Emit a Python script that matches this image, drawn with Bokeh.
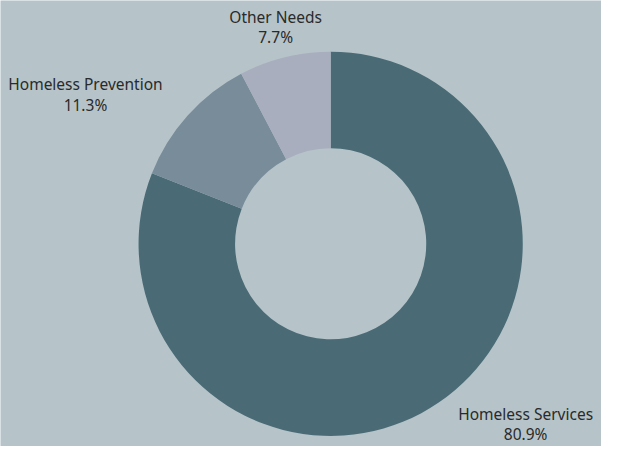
import numpy as np
from bokeh.plotting import figure
from bokeh.models import Range1d, ColumnDataSource
from bokeh.core.properties import value
from bokeh.embed import file_html
from bokeh.resources import INLINE

categories = ["Homeless Services", "Homeless Prevention", "Other Needs"]
shares = [80.9, 11.3, 7.7]
colors = ["#4a6b75", "#788c9a", "#a8aebe"]
pct_labels = ["80.9%", "11.3%", "7.7%"]

BG = "#b6c4c9"
W, H = 601, 446
k = H / 462.0
p = figure(width=W, height=H, output_backend="svg", toolbar_location=None,
           x_range=Range1d(0, W / k), y_range=Range1d(0, 462),
           min_border=0, background_fill_color=BG, border_fill_color=BG)
p.axis.visible = False
p.grid.visible = False
p.outline_line_color = None

cx, cy = 342, 210
frac = np.array(shares) / np.sum(shares)
cum = np.concatenate([[0], np.cumsum(frac)])
start = np.pi / 2 - 2 * np.pi * cum[:-1]
end = np.pi / 2 - 2 * np.pi * cum[1:]
src = ColumnDataSource(dict(start=start, end=end, color=colors))
p.annular_wedge(x=cx, y=cy, inner_radius=99, outer_radius=199,
                start_angle="start", end_angle="end", direction="clock",
                fill_color="color", line_color=None, source=src)

label_pos = [(544, 462 - 428), (88, 462 - 87), (285, 462 - 17)]
for (lx, ly), name, pct in zip(label_pos, categories, pct_labels):
    p.text(x=[lx, lx], y=[ly, ly - 21], text=[name, pct],
           text_align="center", text_baseline="middle",
           text_font=value("Noto Sans"), text_font_size="15.5px",
           text_color="#2a2a2a")

open("out.html", "w").write(file_html(p, INLINE))
